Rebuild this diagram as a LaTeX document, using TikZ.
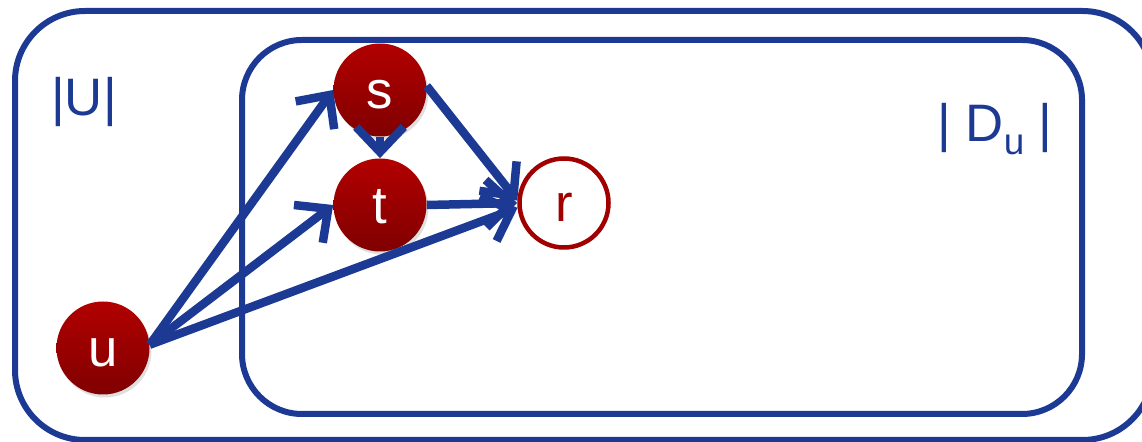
\documentclass[tikz,border=0pt]{standalone}
\usepackage{fontspec}
\setmainfont{Liberation Sans}
\usetikzlibrary{arrows.meta,shadows}
\definecolor{dblue}{RGB}{28,58,148}
\definecolor{dred}{RGB}{160,0,0}
\definecolor{dredtop}{RGB}{178,0,0}
\definecolor{dredbot}{RGB}{128,0,0}
\tikzset{
  frame/.style={draw=dblue, line width=0.12cm},
  rednode/.style={circle, minimum size=1.86cm, inner sep=0pt, top color=dredtop, bottom color=dredbot,
    text=white, font=\fontsize{30}{32}\selectfont, text height=27pt, text depth=6.4pt,
    drop shadow={opacity=0.25, shadow xshift=0.04cm, shadow yshift=-0.06cm}},
  opennode/.style={circle, minimum size=1.78cm, inner sep=0pt, draw=dred, line width=0.09cm, fill=white,
    text=dred, font=\fontsize{30}{32}\selectfont, text height=27pt, text depth=6.4pt},
  label/.style={text=dblue, font=\fontsize{30}{33}\selectfont},
  conn/.style={draw=dblue, line width=0.17cm, -{Straight Barb[length=0.5cm, width=0.95cm]}},
}
\begin{document}
\begin{tikzpicture}
\useasboundingbox (0,0) rectangle (22.84,8.84);
% outer and inner frames
\draw[frame, rounded corners=1.4cm] (0.3,0.04) rectangle (23.05,8.62);
\draw[frame, rounded corners=1.2cm] (4.84,0.56) rectangle (21.64,8.04);
% labels
\node[label] (U) at (1.68,6.8) {|U|};
\node[label] (D) at (19.9,6.26) {| D\raisebox{-0.25em}{\fontsize{21}{23}\selectfont u}\ |};
% nodes
\node[rednode] (s) at (7.6,7.04) {s};
\node[rednode] (t) at (7.6,4.74) {t};
\node[rednode] (u) at (2.06,1.88) {u};
\node[opennode] (r) at (11.28,4.78) {r};
% connectors
\draw[conn] (u.4) -- (s.west);
\draw[conn] (u.4) -- (t.west);
\draw[conn] (u.4) -- (r.186);
\draw[conn] (s.south) -- (t.north);
\draw[conn] (s.5) -- (r.177);
\draw[conn] (t.east) -- (r.180);
\end{tikzpicture}
\end{document}
